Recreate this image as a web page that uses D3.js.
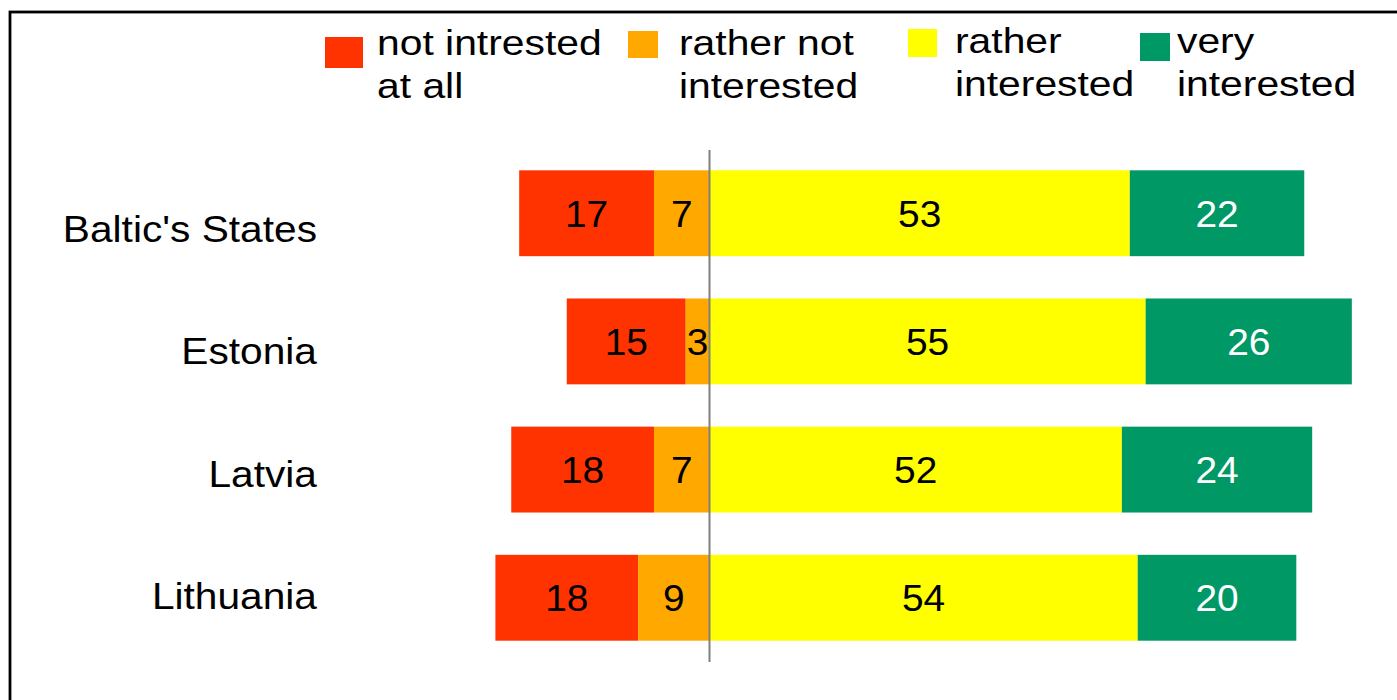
<!DOCTYPE html>
<html>
<head>
<meta charset="utf-8">
<script src="https://cdn.jsdelivr.net/npm/d3@7"></script>
<style>
  body { margin: 0; background: #fff; }
  text { font-family: "Liberation Sans", Arial, sans-serif; }
</style>
</head>
<body>
<div id="chart"></div>
<script>

// data
var countries = ["Baltic's States", "Estonia", "Latvia", "Lithuania"];
var series = ["notAtAll", "ratherNot", "ratherYes", "very"];
var seriesNames = [["not intrested", "at all"], ["rather not", "interested"], ["rather", "interested"], ["very", "interested"]];
var notAtAll = [17, 15, 18, 18];
var ratherNot = [7, 3, 7, 9];
var ratherYes = [53, 55, 52, 54];
var very = [22, 26, 24, 20];

var colors = ["#ff3300", "#ffa800", "#ffff00", "#009966"];
var labelColors = ["#000", "#000", "#000", "#fff"];

var w = 1397;
var h = 700;

var svg = d3.select("#chart")
  .append("svg")
  .attr("width", w)
  .attr("height", h);

// frame (runs off the right and bottom edge like in the picture)
svg.append("rect")
  .attr("x", 10)
  .attr("y", 12)
  .attr("width", w + 20)
  .attr("height", h + 20)
  .attr("fill", "none")
  .attr("stroke", "#000")
  .attr("stroke-width", 2.8);

var xScale = d3.scaleLinear()
  .domain([-30, 90])
  .range([709.5 - 30 * 7.93, 709.5 + 90 * 7.93]);

var yScale = d3.scaleBand()
  .domain(countries)
  .range([128, 683])
  .paddingInner(0.33)
  .paddingOuter(0.33);

// category labels sit a bit off the bar centres in the original
var labelScale = d3.scalePoint()
  .domain(countries)
  .range([229, 596]);

// build segments: negative side goes outwards from zero
var rows = countries.map(function(c, i) {
  var vals = [notAtAll[i], ratherNot[i], ratherYes[i], very[i]];
  var start = -(vals[0] + vals[1]);
  var segs = [];
  vals.forEach(function(v, k) {
    segs.push({country: c, k: k, v: v, x0: start, x1: start + v});
    start += v;
  });
  return segs;
});

var segs = [].concat.apply([], rows);

svg.selectAll("rect.bar")
  .data(segs)
  .enter()
  .append("rect")
  .attr("class", "bar")
  .attr("x", function(d) { return xScale(d.x0); })
  .attr("y", function(d) { return yScale(d.country); })
  .attr("width", function(d) { return xScale(d.x1) - xScale(d.x0); })
  .attr("height", yScale.bandwidth())
  .attr("fill", function(d) { return colors[d.k]; });

svg.selectAll("text.val")
  .data(segs)
  .enter()
  .append("text")
  .attr("class", "val")
  .attr("transform", function(d) {
    var cx = (xScale(d.x0) + xScale(d.x1)) / 2;
    var cy = yScale(d.country) + yScale.bandwidth() / 2;
    return "translate(" + cx + "," + cy + ") scale(1.05,1)";
  })
  .attr("dy", "0.36em")
  .attr("text-anchor", "middle")
  .attr("font-size", 37)
  .attr("fill", function(d) { return labelColors[d.k]; })
  .text(function(d) { return d.v; });

// zero line
svg.append("line")
  .attr("x1", xScale(0))
  .attr("x2", xScale(0))
  .attr("y1", 150)
  .attr("y2", 662)
  .attr("stroke", "#808080")
  .attr("stroke-width", 2);

// country labels
svg.selectAll("text.cat")
  .data(countries)
  .enter()
  .append("text")
  .attr("class", "cat")
  .attr("transform", function(d) { return "translate(317," + labelScale(d) + ") scale(1.13,1)"; })
  .attr("dy", "0.36em")
  .attr("text-anchor", "end")
  .attr("font-size", 36)
  .attr("fill", "#000")
  .text(function(d) { return d; });

// legend
var legendLayout = [
  {sx: 325, sy: 37, sw: 38, sh: 31, tx: 377},
  {sx: 628, sy: 31, sw: 30, sh: 27, tx: 679},
  {sx: 908, sy: 29, sw: 29, sh: 28, tx: 955},
  {sx: 1140, sy: 33, sw: 30, sh: 28, tx: 1177}
];

var legend = svg.selectAll("g.legend")
  .data(series)
  .enter()
  .append("g")
  .attr("class", "legend");

legend.append("rect")
  .attr("x", function(d, i) { return legendLayout[i].sx; })
  .attr("y", function(d, i) { return legendLayout[i].sy; })
  .attr("width", function(d, i) { return legendLayout[i].sw; })
  .attr("height", function(d, i) { return legendLayout[i].sh; })
  .attr("fill", function(d, i) { return colors[i]; });

legend.each(function(d, i) {
  var g = d3.select(this);
  seriesNames[i].forEach(function(line, j) {
    g.append("text")
      .attr("transform", "translate(" + legendLayout[i].tx + "," + (i < 2 ? 55 : 53) + ") scale(1.15,1)")
      .attr("y", j * 43)
      .attr("font-size", 35.5)
      .attr("fill", "#000")
      .text(line);
  });
});

</script>
</body>
</html>
